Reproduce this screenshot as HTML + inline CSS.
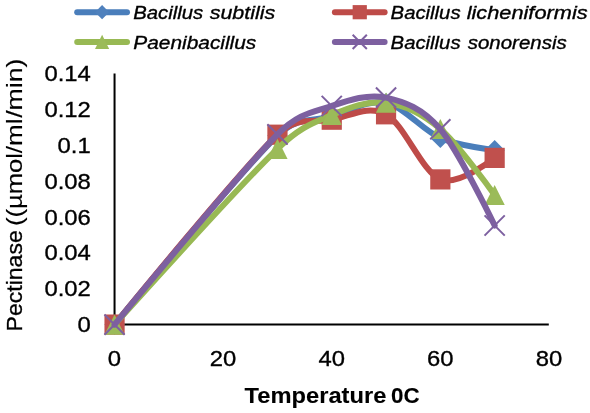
<!DOCTYPE html>
<html><head><meta charset="utf-8"><title>Pectinase vs Temperature</title>
<style>
html,body{margin:0;padding:0;background:#fff;}
svg{display:block;font-family:"Liberation Sans",sans-serif;fill:#000;}
text{stroke:#000;stroke-width:0.35px;}
</style></head>
<body>
<svg width="590" height="413" viewBox="0 0 590 413">
<rect width="590" height="413" fill="#fff"/>
<path d="M114.55 73.60V325.60M113.55 324.60H548.8" stroke="#000" stroke-width="2" fill="none"/>
<text x="90.8" y="332.1" text-anchor="end" font-size="22.9" textLength="13.3" lengthAdjust="spacingAndGlyphs">0</text>
<text x="90.8" y="296.2" text-anchor="end" font-size="22.9" textLength="46.4" lengthAdjust="spacingAndGlyphs">0.02</text>
<text x="90.8" y="260.3" text-anchor="end" font-size="22.9" textLength="46.4" lengthAdjust="spacingAndGlyphs">0.04</text>
<text x="90.8" y="224.5" text-anchor="end" font-size="22.9" textLength="46.4" lengthAdjust="spacingAndGlyphs">0.06</text>
<text x="90.8" y="188.6" text-anchor="end" font-size="22.9" textLength="46.4" lengthAdjust="spacingAndGlyphs">0.08</text>
<text x="90.8" y="152.8" text-anchor="end" font-size="22.9" textLength="33.2" lengthAdjust="spacingAndGlyphs">0.1</text>
<text x="90.8" y="116.9" text-anchor="end" font-size="22.9" textLength="46.4" lengthAdjust="spacingAndGlyphs">0.12</text>
<text x="90.8" y="81.0" text-anchor="end" font-size="22.9" textLength="46.4" lengthAdjust="spacingAndGlyphs">0.14</text>
<text x="114.5" y="365.6" text-anchor="middle" font-size="22.9" textLength="13.3" lengthAdjust="spacingAndGlyphs">0</text>
<text x="223.1" y="365.6" text-anchor="middle" font-size="22.9" textLength="26.5" lengthAdjust="spacingAndGlyphs">20</text>
<text x="331.8" y="365.6" text-anchor="middle" font-size="22.9" textLength="26.5" lengthAdjust="spacingAndGlyphs">40</text>
<text x="440.3" y="365.6" text-anchor="middle" font-size="22.9" textLength="26.5" lengthAdjust="spacingAndGlyphs">60</text>
<text x="548.9" y="365.6" text-anchor="middle" font-size="22.9" textLength="26.5" lengthAdjust="spacingAndGlyphs">80</text>
<path d="M114.55 324.60 C114.55 324.60 241.25 170.32 277.45 135.60 C298.25 115.66 313.65 121.73 331.75 116.30 C349.85 110.87 367.95 99.38 386.05 103.00 C404.15 106.62 422.25 130.13 440.35 138.00 C458.45 145.87 494.65 150.20 494.65 150.20" fill="none" stroke="#4A7EBB" stroke-width="6" stroke-linecap="round" stroke-linejoin="round"/>
<path d="M114.55 314.50L124.65 324.60L114.55 334.70L104.45 324.60Z" fill="#4F81BD"/>
<path d="M277.45 125.50L287.55 135.60L277.45 145.70L267.35 135.60Z" fill="#4F81BD"/>
<path d="M331.75 106.20L341.85 116.30L331.75 126.40L321.65 116.30Z" fill="#4F81BD"/>
<path d="M386.05 92.90L396.15 103.00L386.05 113.10L375.95 103.00Z" fill="#4F81BD"/>
<path d="M440.35 127.90L450.45 138.00L440.35 148.10L430.25 138.00Z" fill="#4F81BD"/>
<path d="M494.65 140.10L504.75 150.20L494.65 160.30L484.55 150.20Z" fill="#4F81BD"/>
<path d="M114.55 324.60 C114.55 324.60 241.25 168.85 277.45 134.70 C297.94 115.37 313.65 123.10 331.75 119.70 C349.85 116.30 367.95 104.35 386.05 114.30 C404.15 124.25 422.25 172.13 440.35 179.40 C458.45 186.67 494.65 157.90 494.65 157.90" fill="none" stroke="#BE4B48" stroke-width="6" stroke-linecap="round" stroke-linejoin="round"/>
<rect x="104.45" y="314.50" width="20.20" height="20.20" fill="#C0504D"/>
<rect x="267.35" y="124.60" width="20.20" height="20.20" fill="#C0504D"/>
<rect x="321.65" y="109.60" width="20.20" height="20.20" fill="#C0504D"/>
<rect x="375.95" y="104.20" width="20.20" height="20.20" fill="#C0504D"/>
<rect x="430.25" y="169.30" width="20.20" height="20.20" fill="#C0504D"/>
<rect x="484.55" y="147.80" width="20.20" height="20.20" fill="#C0504D"/>
<path d="M114.55 324.60 C114.55 324.60 241.25 183.73 277.45 148.80 C300.46 126.59 313.65 122.70 331.75 115.00 C349.85 107.30 367.95 100.27 386.05 102.60 C404.15 104.93 422.25 113.60 440.35 129.00 C458.45 144.40 494.65 195.00 494.65 195.00" fill="none" stroke="#98B954" stroke-width="6" stroke-linecap="round" stroke-linejoin="round"/>
<path d="M114.55 314.50L124.65 334.70L104.45 334.70Z" fill="#9BBB59"/>
<path d="M277.45 138.70L287.55 158.90L267.35 158.90Z" fill="#9BBB59"/>
<path d="M331.75 104.90L341.85 125.10L321.65 125.10Z" fill="#9BBB59"/>
<path d="M386.05 92.50L396.15 112.70L375.95 112.70Z" fill="#9BBB59"/>
<path d="M440.35 118.90L450.45 139.10L430.25 139.10Z" fill="#9BBB59"/>
<path d="M494.65 184.90L504.75 205.10L484.55 205.10Z" fill="#9BBB59"/>
<path d="M114.55 324.60 C114.55 324.60 241.25 170.83 277.45 134.40 C299.05 112.67 313.65 112.13 331.75 106.00 C349.85 99.87 367.95 93.72 386.05 97.60 C404.15 101.48 422.25 107.98 440.35 129.30 C458.45 150.62 494.65 225.50 494.65 225.50" fill="none" stroke="#7D60A0" stroke-width="6" stroke-linecap="round" stroke-linejoin="round"/>
<path d="M104.45 314.50L124.65 334.70M124.65 314.50L104.45 334.70" stroke="#7D60A0" stroke-width="2" fill="none"/>
<path d="M267.35 124.30L287.55 144.50M287.55 124.30L267.35 144.50" stroke="#7D60A0" stroke-width="2" fill="none"/>
<path d="M321.65 95.90L341.85 116.10M341.85 95.90L321.65 116.10" stroke="#7D60A0" stroke-width="2" fill="none"/>
<path d="M375.95 87.50L396.15 107.70M396.15 87.50L375.95 107.70" stroke="#7D60A0" stroke-width="2" fill="none"/>
<path d="M430.25 119.20L450.45 139.40M450.45 119.20L430.25 139.40" stroke="#7D60A0" stroke-width="2" fill="none"/>
<path d="M484.55 215.40L504.75 235.60M504.75 215.40L484.55 235.60" stroke="#7D60A0" stroke-width="2" fill="none"/>
<path d="M77.2 12.2H127.0" stroke="#4A7EBB" stroke-width="6" stroke-linecap="round"/>
<path d="M102.10 5.10L109.20 12.20L102.10 19.30L95.00 12.20Z" fill="#4F81BD"/>
<text x="133.29" y="19.10" font-size="19.2" textLength="69.91" lengthAdjust="spacingAndGlyphs" font-style="italic">Bacillus</text>
<text x="209.66" y="19.10" font-size="19.2" textLength="65.67" lengthAdjust="spacingAndGlyphs" font-style="italic">subtilis</text>
<path d="M77.2 41.9H127.0" stroke="#98B954" stroke-width="6" stroke-linecap="round"/>
<path d="M102.10 34.80L109.20 49.00L95.00 49.00Z" fill="#9BBB59"/>
<text x="133.27" y="48.50" font-size="19.2" textLength="123.04" lengthAdjust="spacingAndGlyphs" font-style="italic">Paenibacillus</text>
<path d="M334.9 12.2H384.6" stroke="#BE4B48" stroke-width="6" stroke-linecap="round"/>
<rect x="352.65" y="5.10" width="14.20" height="14.20" fill="#C0504D"/>
<text x="390.59" y="19.10" font-size="19.2" textLength="70.01" lengthAdjust="spacingAndGlyphs" font-style="italic">Bacillus</text>
<text x="466.65" y="19.10" font-size="19.2" textLength="120.99" lengthAdjust="spacingAndGlyphs" font-style="italic">licheniformis</text>
<path d="M334.9 41.9H384.6" stroke="#7D60A0" stroke-width="6" stroke-linecap="round"/>
<path d="M352.65 34.80L366.85 49.00M366.85 34.80L352.65 49.00" stroke="#7D60A0" stroke-width="2" fill="none"/>
<text x="390.59" y="48.50" font-size="19.2" textLength="70.01" lengthAdjust="spacingAndGlyphs" font-style="italic">Bacillus</text>
<text x="467.76" y="48.50" font-size="19.2" textLength="98.95" lengthAdjust="spacingAndGlyphs" font-style="italic">sonorensis</text>
<text x="244.64" y="402.90" font-size="21.8" textLength="141.68" lengthAdjust="spacingAndGlyphs" font-weight="bold" style="stroke-width:0.1px">Temperature</text>
<text x="391.03" y="402.90" font-size="21.8" textLength="28.58" lengthAdjust="spacingAndGlyphs" font-weight="bold" style="stroke-width:0.1px">0C</text>
<g transform="translate(21.8 0) rotate(-90)">
<text x="-331.49" y="0.00" font-size="22.0" textLength="101.22" lengthAdjust="spacingAndGlyphs" style="stroke-width:0.3px">Pectinase</text>
<text x="-225.99" y="0.00" font-size="22.0" textLength="72.99" lengthAdjust="spacingAndGlyphs" style="stroke-width:0.15px">((µmol</text>
<text x="-153.20" y="0.00" font-size="22.0" textLength="34.61" lengthAdjust="spacingAndGlyphs" style="stroke-width:0.15px">/ml</text>
<text x="-117.80" y="0.00" font-size="22.0" textLength="59.26" lengthAdjust="spacingAndGlyphs" style="stroke-width:0.15px">/min)</text>
</g>
</svg>
</body></html>
